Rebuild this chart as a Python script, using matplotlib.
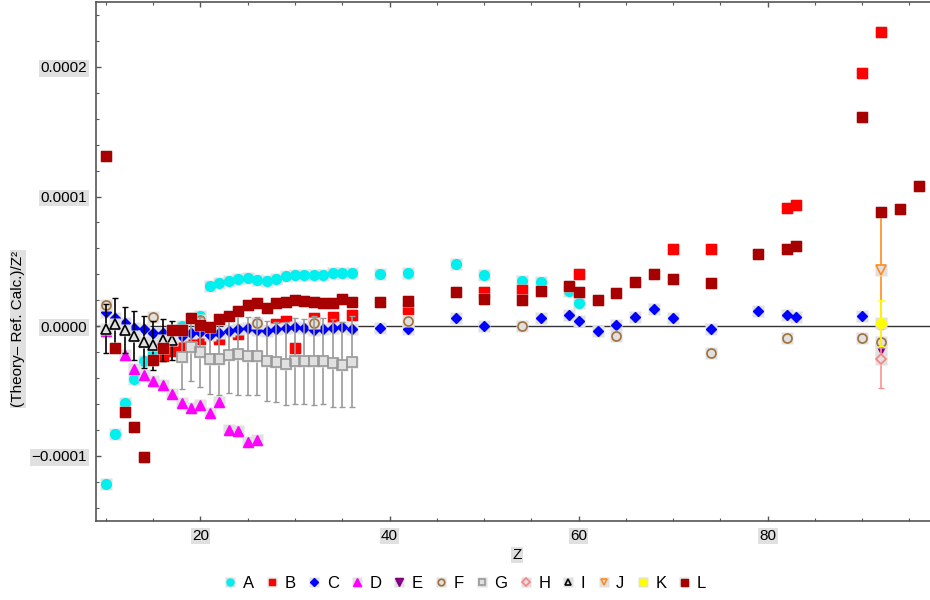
import numpy as np
import matplotlib
matplotlib.use("Agg")
import matplotlib.pyplot as plt
from matplotlib.lines import Line2D
from matplotlib.ticker import MultipleLocator, FuncFormatter

plt.rcParams["font.family"] = ["Liberation Sans", "DejaVu Sans"]

# all values are in units of 1e-4
scale = 1e-4

a_z = [10, 11, 12, 13, 14, 15, 18, 20, 21, 22, 23, 24, 25, 26, 27, 28, 29, 30, 31, 32,
       33, 34, 35, 36, 39, 42, 47, 50, 54, 56, 59, 60]
a_v = [-1.22, -0.83, -0.59, -0.41, -0.27, -0.21, 0.005, 0.08, 0.308, 0.334, 0.347, 0.365,
       0.373, 0.36, 0.347, 0.365, 0.386, 0.393, 0.393, 0.398, 0.398, 0.411, 0.411, 0.411,
       0.406, 0.411, 0.476, 0.398, 0.347, 0.339, 0.275, 0.175]

b_z = [16, 17, 18, 19, 20, 22, 24, 28, 29, 30, 32, 34, 36, 42, 50, 54, 60, 70, 74, 82, 83, 90, 92]
b_v = [-0.23, -0.19, -0.154, -0.13, -0.10, -0.10, -0.057, 0.02, 0.039, -0.167, 0.064, 0.072,
       0.09, 0.136, 0.262, 0.28, 0.404, 0.599, 0.599, 0.915, 0.937, 1.954, 2.27]

c_z = [10, 11, 12, 13, 14, 15, 16, 17, 18, 19, 20, 21, 22, 23, 24, 25, 26, 27, 28, 29, 30,
       31, 32, 33, 34, 35, 36, 39, 42, 47, 50, 56, 59, 60, 62, 64, 66, 68, 70, 74, 79, 82, 83, 90]
c_v = [0.11, 0.064, 0.026, -0.013, -0.018, -0.05, -0.05, -0.08, -0.077, -0.05, -0.046, -0.069,
       -0.05, -0.039, -0.02, -0.015, -0.03, -0.036, -0.018, -0.015, -0.01, -0.015, -0.026,
       -0.018, -0.013, -0.005, -0.018, -0.013, -0.02, 0.062, 0.003, 0.062, 0.087, 0.039,
       -0.036, 0.008, 0.069, 0.134, 0.064, -0.02, 0.116, 0.087, 0.072, 0.082]

d_z = [10, 12, 13, 14, 15, 16, 17, 18, 19, 20, 21, 22, 23, 24, 25, 26]
d_v = [-0.04, -0.226, -0.334, -0.378, -0.424, -0.45, -0.52, -0.596, -0.63, -0.61, -0.672,
       -0.588, -0.797, -0.805, -0.892, -0.879]

e_z = [92]
e_v = [-0.175]

f_z = [10, 15, 20, 26, 32, 42, 54, 64, 74, 82, 90, 92]
f_v = [0.167, 0.067, 0.046, 0.026, 0.026, 0.039, 0.005, -0.072, -0.208, -0.093, -0.09, -0.12]

g_z = [18, 19, 20, 21, 22, 23, 24, 25, 26, 27, 28, 29, 30, 31, 32, 33, 34, 35, 36]
g_v = [-0.236, -0.16, -0.198, -0.25, -0.252, -0.226, -0.218, -0.231, -0.231, -0.27, -0.278,
       -0.288, -0.27, -0.272, -0.265, -0.27, -0.283, -0.296, -0.275]
g_err = [0.25, 0.265, 0.27, 0.275, 0.275, 0.29, 0.31, 0.30, 0.30, 0.31, 0.31, 0.32, 0.33,
         0.33, 0.34, 0.33, 0.34, 0.33, 0.35]

h_z = [92]
h_v = [-0.25]
h_err = [0.23]

i_z = [10, 11, 12, 13, 14, 15, 16, 17]
i_v = [-0.02, 0.015, -0.03, -0.072, -0.12, -0.147, -0.105, -0.11]
i_err = [0.19, 0.2, 0.18, 0.19, 0.2, 0.19, 0.16, 0.15]

j_z = [92]
j_v = [0.437]
j_err = [0.41]

k_z = [92]
k_v = [0.026]
k_err = [0.175]

l_z = [10, 11, 12, 13, 14, 15, 16, 17, 18, 19, 20, 21, 22, 23, 24, 25, 26, 27, 28, 29, 30,
       31, 32, 33, 34, 35, 36, 39, 42, 47, 50, 54, 56, 59, 60, 62, 64, 66, 68, 70, 74, 79,
       82, 83, 90, 92, 94, 96]
l_v = [1.31, -0.167, -0.663, -0.776, -1.008, -0.257, -0.167, -0.03, -0.03, 0.062, 0.008,
       -0.005, 0.057, 0.082, 0.116, 0.167, 0.175, 0.141, 0.175, 0.185, 0.2, 0.198, 0.185,
       0.18, 0.18, 0.206, 0.19, 0.188, 0.193, 0.262, 0.213, 0.203, 0.275, 0.308, 0.262,
       0.203, 0.257, 0.344, 0.406, 0.365, 0.334, 0.558, 0.596, 0.617, 1.614, 0.88, 0.90, 1.08]

series = [
    ("A", a_z, a_v, None, dict(marker="o", ms=7, mfc="#00f0f0", mec="#00f0f0")),
    ("B", b_z, b_v, None, dict(marker="s", ms=6.5, mfc="#ff0000", mec="#ff0000")),
    ("C", c_z, c_v, None, dict(marker="D", ms=5.5, mfc="#0000ff", mec="#0000ff")),
    ("D", d_z, d_v, None, dict(marker="^", ms=7.5, mfc="#ff00ff", mec="#ff00ff")),
    ("E", e_z, e_v, None, dict(marker="v", ms=7.5, mfc="#800080", mec="#800080")),
    ("F", f_z, f_v, None, dict(marker="o", ms=6.5, mfc="none", mec="#a0703c", mew=1.2)),
    ("G", g_z, g_v, g_err, dict(marker="s", ms=6.5, mfc="none", mec="#999999", mew=1.2)),
    ("H", h_z, h_v, h_err, dict(marker="D", ms=5.5, mfc="none", mec="#ff8080", mew=1.2)),
    ("I", i_z, i_v, i_err, dict(marker="^", ms=6.5, mfc="none", mec="black", mew=1.2)),
    ("J", j_z, j_v, j_err, dict(marker="v", ms=6.5, mfc="none", mec="#ff8c1a", mew=1.2)),
    ("K", k_z, k_v, k_err, dict(marker="o", ms=7, mfc="#ffff00", mec="#ffff00")),
    ("L", l_z, l_v, None, dict(marker="s", ms=7, mfc="#a80000", mec="#a80000")),
]
err_colors = {"G": "#999999", "H": "#ff9090", "I": "black", "J": "#ff8c1a", "K": "#ffff00"}
halo = dict(marker="s", ms=9, mfc="#e0e0e0", mec="none", ls="none")

fig = plt.figure(figsize=(9.3, 6), dpi=100)
ax = fig.add_axes([95.5 / 930, 79.3 / 600, 1 - 95.5 / 930, 518.7 / 600])

ax.axhline(0, color="#333333", lw=1, zorder=1)

handles = []
for n, (name, z, v, err, st) in enumerate(series):
    z = np.array(z)
    v = np.array(v) * scale
    base = 2 + n
    if err is not None:
        ax.errorbar(z, v, yerr=np.array(err) * scale, fmt="none",
                    ecolor=err_colors[name], elinewidth=1.2, capsize=2,
                    capthick=1, zorder=base)
    ax.plot(z, v, zorder=base + 0.1, **halo)
    ax.plot(z, v, ls="none", zorder=base + 0.2, **st)
    # smaller copies for the legend
    lst = dict(st)
    lst["ms"] = st["ms"] * 0.72
    h1 = Line2D([], [], marker="s", ms=6.5, mfc="#e0e0e0", mec="none", ls="none")
    h2 = Line2D([], [], ls="none", **lst)
    handles.append(((h1, h2), name))

ax.set_xlim(8.9, 97.17)
ax.set_ylim(-0.00015, 0.00025)

ax.xaxis.set_major_locator(MultipleLocator(20))
ax.xaxis.set_minor_locator(MultipleLocator(5))
ax.yaxis.set_major_locator(MultipleLocator(0.0001))
ax.yaxis.set_minor_locator(MultipleLocator(0.00002))
ax.yaxis.set_major_formatter(FuncFormatter(lambda y, p: f"{y:.4f}".replace("-", "\u2212")))

ax.spines["right"].set_visible(False)
for s in ["left", "bottom", "top"]:
    ax.spines[s].set_color("#555555")
    ax.spines[s].set_linewidth(1.2)

ax.tick_params(which="both", direction="in", top=True, right=False, color="#555555",
               labelsize=11, labelcolor="black")
ax.tick_params(which="major", length=3.5, width=1)
ax.tick_params(which="minor", length=2, width=0.8)
ax.tick_params(axis="y", pad=6)
ax.tick_params(axis="x", pad=6)

for lab in ax.get_xticklabels() + ax.get_yticklabels():
    lab.set_bbox(dict(facecolor="#e0e0e0", edgecolor="none", pad=1))

box = dict(facecolor="#e0e0e0", edgecolor="none", pad=1)
fig.text(517 / 930, 1 - 555 / 600, "Z", fontsize=11, ha="center", va="center", bbox=box)
fig.text(18 / 930, 1 - 329 / 600, "(Theory\u2013 Ref. Calc.)/Z\u00b2", fontsize=11,
         rotation=90, ha="center", va="center", bbox=box)

fig.legend([h for h, _ in handles], [n for _, n in handles], loc="center",
           bbox_to_anchor=(0.5, 1 - 583 / 600), ncol=12, frameon=False, fontsize=12,
           handlelength=0.8, handletextpad=0.36, columnspacing=0.68)

fig.savefig("out.png", dpi=100)
